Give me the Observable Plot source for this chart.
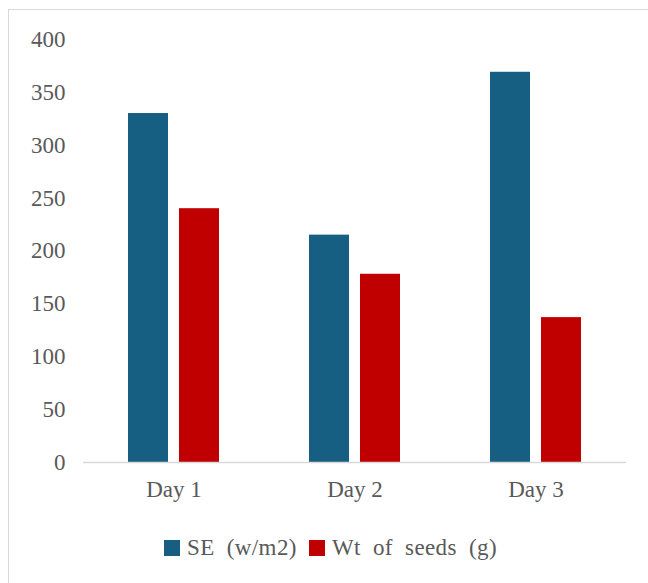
<!DOCTYPE html>
<html>
<head>
<meta charset="utf-8">
<script src="https://cdn.jsdelivr.net/npm/d3@7"></script>
<script src="https://cdn.jsdelivr.net/npm/@observablehq/plot@0.6"></script>
<style>
  html, body { margin: 0; padding: 0; background: #fff; overflow: hidden; width: 648px; height: 583px; }
  #frame { position: absolute; left: 8px; top: 9px; width: 700px; height: 700px; border: 1px solid #d9d9d9; box-sizing: border-box; }
  #chart { position: absolute; left: 0; top: 0; }
  #legend { position: absolute; left: 0; top: 534px; width: 661px; height: 28px; display: flex; justify-content: center; align-items: center;
            font-family: "Liberation Serif", serif; font-size: 23px; color: #595959; white-space: pre; word-spacing: 6px; letter-spacing: 0.4px; }
  .item { display: flex; align-items: center; margin: 0 6px; }
  .sw { width: 16px; height: 16px; margin-right: 7px; }
</style>
</head>
<body>
<div id="frame"></div>
<div id="chart"></div>
<div id="legend"></div>
<script>
const days = ["Day 1", "Day 2", "Day 3"];
const seriesNames = ["SE (w/m2)", "Wt of seeds (g)"];
const seValues = [330, 215, 369];
const wtValues = [240, 178, 137];
const colors = ["#175f82", "#c00000"];
const yTicks = [0, 50, 100, 150, 200, 250, 300, 350, 400];

const data = [];
days.forEach((d, i) => {
  data.push({day: d, series: seriesNames[0], value: seValues[i]});
  data.push({day: d, series: seriesNames[1], value: wtValues[i]});
});

const fontFam = '"Liberation Serif", serif';

const chart = Plot.plot({
  width: 648,
  height: 520,
  marginLeft: 82,
  marginRight: 21,
  marginTop: 39,
  marginBottom: 58,
  style: {fontFamily: fontFam, fontSize: "23px", color: "#595959", background: "transparent"},
  fx: {domain: days, padding: 0, label: null, tickSize: 0, tickPadding: 18},
  x: {domain: seriesNames, paddingInner: 0.2115, paddingOuter: 0.853, axis: null},
  y: {domain: [0, 400], ticks: yTicks, tickSize: 0, tickPadding: 18, label: null},
  color: {domain: seriesNames, range: colors},
  marks: [
    Plot.barY(data, {fx: "day", x: "series", y: "value", fill: "series"}),
    Plot.ruleY([0], {stroke: "#d9d9d9", strokeWidth: 1.5})
  ]
});
document.getElementById("chart").appendChild(chart);

const legend = document.getElementById("legend");
seriesNames.forEach((s, i) => {
  const it = document.createElement("div");
  it.className = "item";
  const sw = document.createElement("div");
  sw.className = "sw";
  sw.style.background = colors[i];
  const t = document.createElement("span");
  t.textContent = s;
  it.appendChild(sw);
  it.appendChild(t);
  legend.appendChild(it);
});
</script>
</body>
</html>
